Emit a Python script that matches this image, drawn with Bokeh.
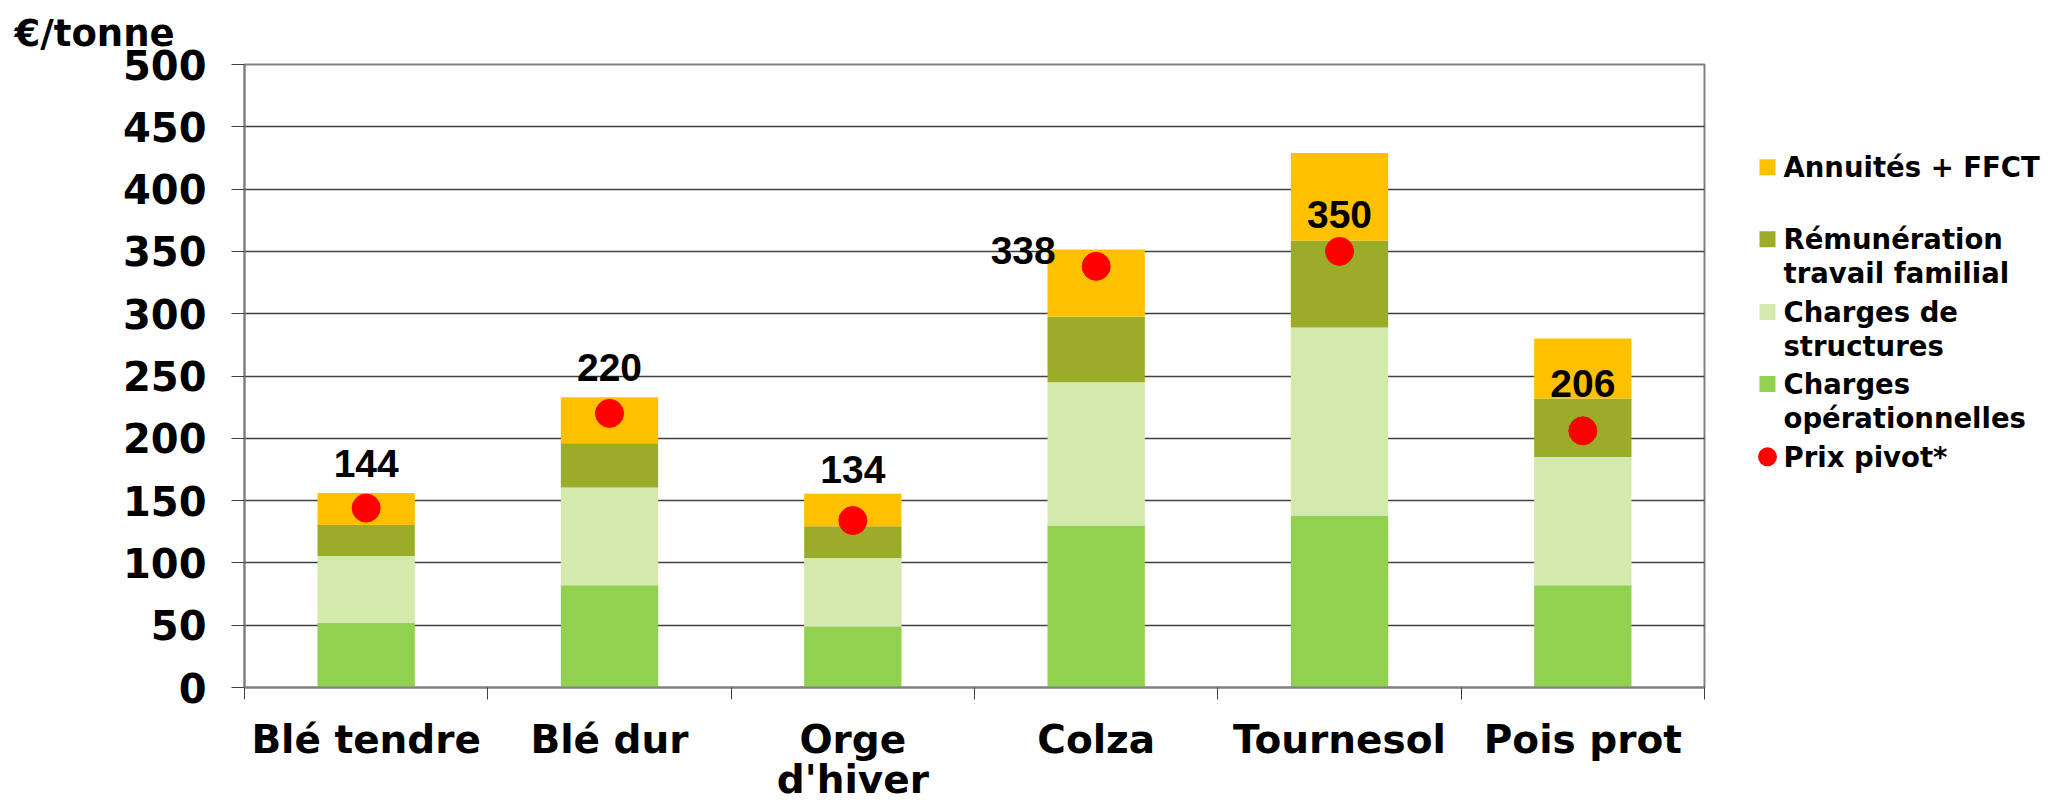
from bokeh.plotting import figure
from bokeh.models import FixedTicker, Range1d, ColumnDataSource
from bokeh.layouts import row
from bokeh.core.properties import value
from bokeh.embed import file_html
from bokeh.resources import INLINE

# ---------------- data ----------------
categories = ["Blé tendre", "Blé dur", "Orge\nd'hiver", "Colza", "Tournesol", "Pois prot"]
charges_operationnelles = [52, 82, 49, 130, 138, 82]
charges_structures = [53.5, 78.5, 55, 115, 151, 103]
remuneration_travail = [25, 35.5, 25.5, 52.5, 69.5, 47]
annuites_ffct = [25.5, 37, 26, 54, 70.5, 48]
prix_pivot = [144, 220, 134, 338, 350, 206]
y_ticks = [0, 50, 100, 150, 200, 250, 300, 350, 400, 450, 500]

series_names = ["Charges\nopérationnelles", "Charges de\nstructures",
                "Rémunération\ntravail familial", "Annuités + FFCT"]
series_colors = ["#92D050", "#D4EAAC", "#9BAD28", "#FFC000"]
pivot_name = "Prix pivot*"
pivot_color = "#FF0000"

# label placement (position of the value labels, in data units)
label_dx = [0, 0, 0, -0.30, 0, 0]
label_y = [180, 257, 175, 351, 380, 244]

# ---------------- main chart ----------------
xs = [i + 0.5 for i in range(len(categories))]

p = figure(width=1708, height=805, x_range=Range1d(0, len(categories)),
           y_range=Range1d(0, 500), output_backend="svg", toolbar_location=None,
           min_border_left=244, min_border_right=4, min_border_top=64,
           min_border_bottom=117)
p.outline_line_color = "#808080"
p.outline_line_width = 2

p.title.text = "€/tonne"
p.title.align = "left"
p.title.offset = -230
p.title.standoff = 19
p.title.text_font = "DejaVu Sans"
p.title.text_font_style = "bold"
p.title.text_font_size = "37px"
p.title.text_color = "black"

src = ColumnDataSource(dict(x=xs, ops=charges_operationnelles, struct=charges_structures,
                            remu=remuneration_travail, annu=annuites_ffct))
p.vbar_stack(["ops", "struct", "remu", "annu"], x="x", width=0.4, source=src,
             fill_color=series_colors, line_color=None)

p.scatter(xs, prix_pivot, size=28, color=pivot_color)

p.text(x=[a + d for a, d in zip(xs, label_dx)], y=label_y,
       text=[str(v) for v in prix_pivot], text_font=value("Liberation Sans"),
       text_font_style="bold", text_font_size="39px", text_align="center",
       text_baseline="middle", text_color="black")

# y axis
p.yaxis.ticker = FixedTicker(ticks=y_ticks)
p.yaxis.major_label_text_font = "DejaVu Sans"
p.yaxis.major_label_text_font_style = "bold"
p.yaxis.major_label_text_font_size = "40px"
p.yaxis.major_label_text_color = "black"
p.yaxis.major_label_standoff = 25
p.yaxis.major_tick_out = 13
p.yaxis.major_tick_in = 0
p.yaxis.major_tick_line_color = "#404040"
p.yaxis.minor_tick_line_color = None
p.yaxis.axis_line_color = "#808080"
p.yaxis.axis_line_width = 2

p.ygrid.ticker = FixedTicker(ticks=y_ticks)
p.ygrid.grid_line_color = "#404040"
p.ygrid.grid_line_width = 1.3
p.xgrid.visible = False

# x axis
p.xaxis.ticker = FixedTicker(ticks=xs, minor_ticks=list(range(len(categories) + 1)))
p.xaxis.major_label_overrides = {x: c for x, c in zip(xs, categories)}
p.xaxis.major_label_text_font = "DejaVu Sans"
p.xaxis.major_label_text_font_style = "bold"
p.xaxis.major_label_text_font_size = "39px"
p.xaxis.major_label_text_line_height = 0.9
p.xaxis.major_label_text_color = "black"
p.xaxis.major_label_standoff = 17
p.xaxis.major_tick_out = 0
p.xaxis.major_tick_in = 0
p.xaxis.minor_tick_out = 12
p.xaxis.minor_tick_in = 0
p.xaxis.minor_tick_line_color = "#404040"
p.xaxis.axis_line_color = "#808080"
p.xaxis.axis_line_width = 2

# ---------------- legend panel (coordinates = page pixels) ----------------
lg = figure(width=340, height=805, x_range=Range1d(1708, 2048), y_range=Range1d(688, 64),
            output_backend="svg", toolbar_location=None,
            min_border_left=0, min_border_right=0, min_border_top=64, min_border_bottom=117,
            x_axis_location=None, y_axis_location=None)
lg.outline_line_color = None
lg.grid.visible = False

legend_names = [series_names[3], series_names[2], series_names[1], series_names[0], pivot_name]
legend_colors = [series_colors[3], series_colors[2], series_colors[1], series_colors[0], pivot_color]
legend_markers = ["square", "square", "square", "square", "circle"]
legend_sizes = [16, 16, 16, 16, 19]
row_y = [167, 239, 312, 384, 457]
line_gap = 34

for name, col, mk, sz, ry in zip(legend_names, legend_colors, legend_markers, legend_sizes, row_y):
    lg.scatter([1767], [ry], marker=mk, size=sz, fill_color=col, line_color=None)
    lines = name.split("\n")
    lg.text(x=[1783] * len(lines), y=[ry + k * line_gap for k in range(len(lines))],
            text=lines, text_font=value("DejaVu Sans"), text_font_style="bold",
            text_font_size="27.5px", text_baseline="middle", text_align="left",
            text_color="black")

layout = row(p, lg)
open("out.html", "w").write(file_html(layout, INLINE))
